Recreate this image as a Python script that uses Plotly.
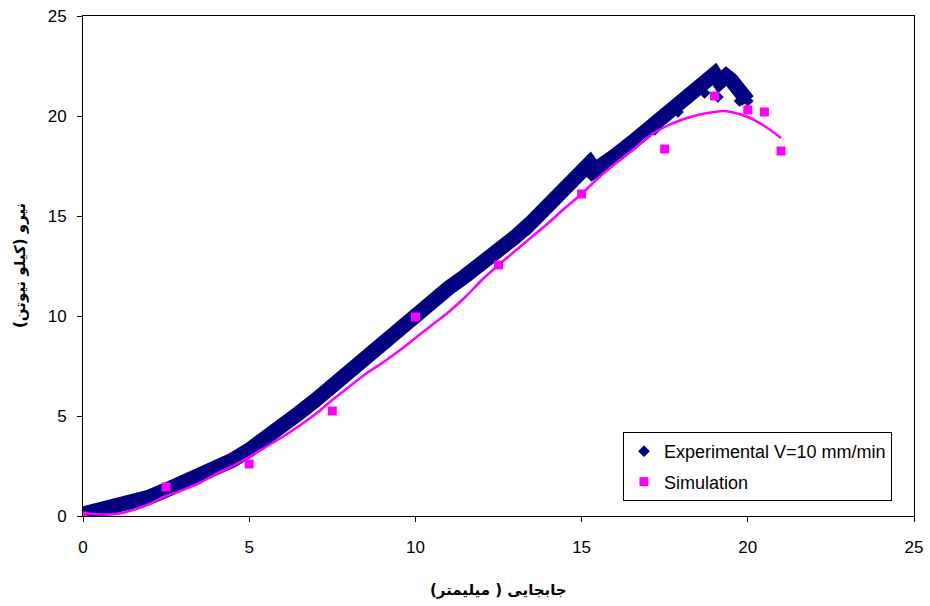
import plotly.graph_objects as go

# Experimental curve (centre of the dense band of points), displacement [mm] vs force [kN]
exp_x = [0, 0.25, 0.5, 1, 1.5, 2, 2.5, 3, 3.5, 4, 4.5, 5, 5.5, 6, 6.5, 7, 7.5, 8, 8.5, 9,
         9.5, 10, 10.5, 11, 11.5, 12, 12.5, 13, 13.5, 14, 14.5, 15, 15.25, 15.4, 15.6, 16,
         16.5, 17, 17.5, 18, 18.5, 18.8, 19.0, 19.15, 19.35, 19.5, 19.7, 19.85, 20.0]
exp_y = [0.1, 0.2, 0.3, 0.45, 0.7, 0.95, 1.3, 1.65, 2.0, 2.35, 2.8, 3.3, 3.85, 4.5, 5.15, 5.8,
         6.5, 7.25, 8.0, 8.75, 9.4, 10.1, 10.75, 11.4, 12.0, 12.6, 13.25, 13.95, 14.7, 15.6,
         16.45, 17.3, 17.65, 17.3, 17.5, 18.0, 18.65, 19.3, 19.95, 20.6, 21.35, 21.85, 22.1,
         21.7, 22.0, 21.8, 21.3, 21.0, 20.75]

# Scattered experimental points hanging below the band (serrations)
exp_drop_x = [9.15, 10.05, 11.45, 12.1, 13.4, 14.3, 15.3, 15.5, 16.6, 17.2, 17.9, 18.7, 19.1, 19.75]
exp_drop_y = [8.65, 9.9, 12.1, 12.8, 14.3, 15.9, 17.0, 17.15, 18.6, 19.3, 20.2, 21.15, 20.95, 20.75]

# Simulation points (squares)
sim_x = [0, 2.5, 5, 7.5, 10, 12.5, 15, 17.5, 19, 20, 20.5, 21]
sim_y = [0, 1.45, 2.6, 5.25, 9.95, 12.55, 16.1, 18.35, 21.0, 20.3, 20.2, 18.25]

# Simulation smooth curve
simc_x = [0, 0.5, 1, 1.5, 2, 2.5, 3, 3.5, 4, 4.5, 5, 5.5, 6, 6.5, 7, 7.5, 8, 8.5, 9, 9.5, 10,
          10.5, 11, 11.5, 12, 12.5, 13, 13.5, 14, 14.5, 15, 15.5, 16, 16.5, 17, 17.5, 18,
          18.5, 19, 19.25, 19.5, 20, 20.5, 21]
simc_y = [0.15, 0.08, 0.1, 0.3, 0.6, 1.0, 1.3, 1.65, 2.1, 2.5, 2.95, 3.45, 3.95, 4.5, 5.1,
          5.8, 6.45, 7.1, 7.65, 8.25, 8.9, 9.55, 10.2, 10.95, 11.8, 12.55, 13.25, 13.95, 14.65,
          15.4, 16.1, 16.9, 17.6, 18.25, 18.95, 19.45, 19.8, 20.05, 20.2, 20.25, 20.2, 19.95,
          19.5, 18.9]

x_ticks = [0, 5, 10, 15, 20, 25]
y_ticks = [0, 5, 10, 15, 20, 25]

NAVY = "#000080"
MAGENTA = "#FF00FF"

fig = go.Figure()

fig.add_trace(go.Scatter(
    x=exp_x, y=exp_y, mode="lines",
    line=dict(color=NAVY, width=15),
    showlegend=False, hoverinfo="skip", legendgroup="exp"))
fig.add_trace(go.Scatter(
    x=exp_x + exp_drop_x, y=exp_y + exp_drop_y, mode="markers",
    marker=dict(symbol="diamond", size=9, color=NAVY),
    name="Experimental V=10 mm/min", legendgroup="exp"))

fig.add_trace(go.Scatter(
    x=simc_x, y=simc_y, mode="lines", line=dict(color=MAGENTA, width=2.5, shape="spline"),
    showlegend=False, legendgroup="sim"))
fig.add_trace(go.Scatter(
    x=sim_x, y=sim_y, mode="markers",
    marker=dict(symbol="square", size=9, color=MAGENTA),
    name="Simulation", legendgroup="sim"))

axis_common = dict(
    showgrid=False, zeroline=False, showline=True, linecolor="black", linewidth=1,
    mirror=True, ticks="outside", ticklen=5, tickcolor="black", automargin=False,
    tickfont=dict(family="Liberation Sans, Arial, sans-serif", size=17, color="black"),
)

fig.update_layout(
    width=930, height=606,
    margin=dict(l=83, r=16, t=16, b=90),
    paper_bgcolor="white", plot_bgcolor="white",
    xaxis=dict(range=[0, 25], tickvals=x_ticks, ticklabelstandoff=11, **axis_common),
    yaxis=dict(range=[0, 25], tickvals=y_ticks, ticklabelstandoff=7, **axis_common),
    legend=dict(
        x=0.9735, y=0.168, xanchor="right", yanchor="top",
        bgcolor="white", bordercolor="black", borderwidth=1,
        font=dict(family="Liberation Sans, Arial, sans-serif", size=18, color="black"),
        itemwidth=30, tracegroupgap=4,
    ),
    annotations=[
        dict(text="<b>جابجایی ( میلیمتر)</b>", xref="paper", yref="paper",
             x=0.5, y=-0.148, xanchor="center", yanchor="middle", showarrow=False,
             font=dict(family="DejaVu Sans", size=15, color="black")),
        dict(text="<b>نیرو (کیلو نیوتن)</b>", xref="paper", yref="paper",
             x=-0.0758, y=0.5, xanchor="center", yanchor="middle", showarrow=False,
             textangle=-90, font=dict(family="DejaVu Sans", size=15, color="black")),
    ],
)

fig.write_html("out.html")
